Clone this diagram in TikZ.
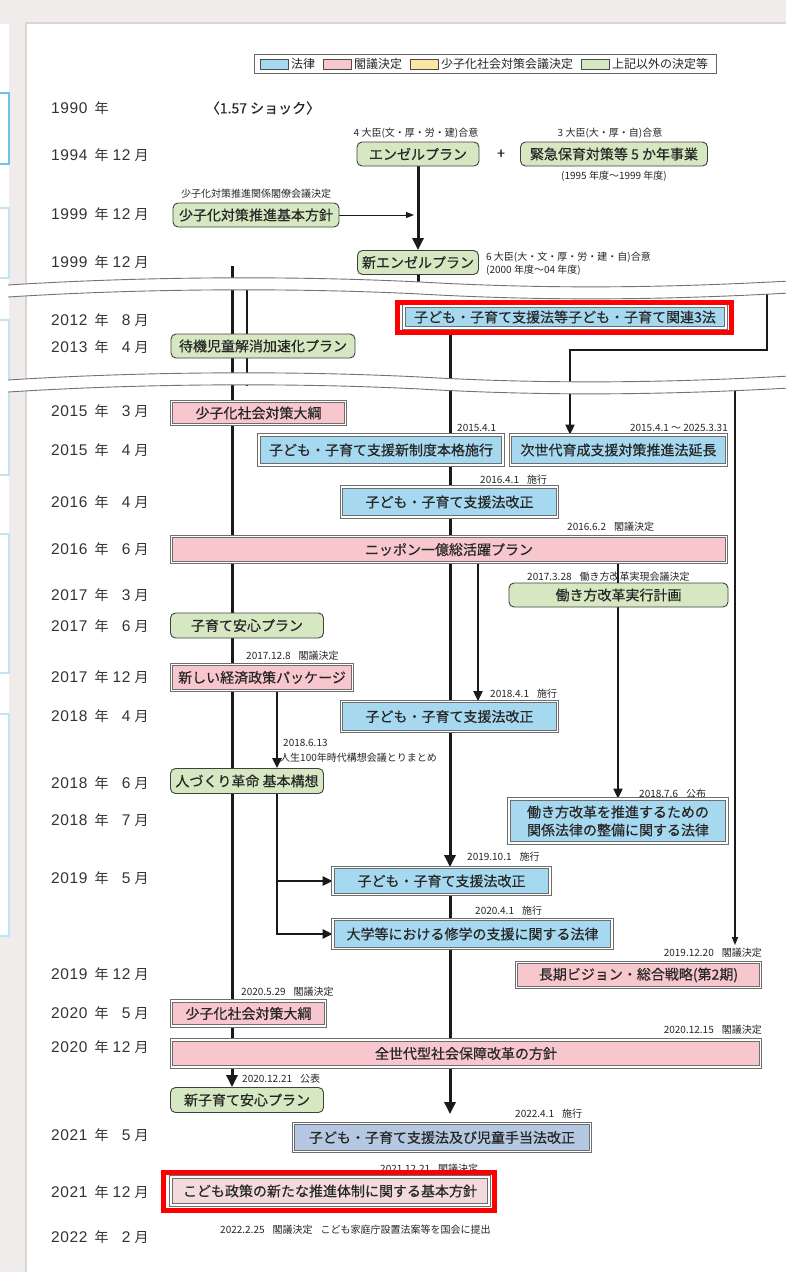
\documentclass[tikz,border=0pt]{standalone}
\usepackage{fontspec}
\setmainfont{Noto Sans CJK JP}
\newfontfamily\boxfont[FakeBold=0.4]{Noto Sans CJK JP}
\newfontfamily\yearfont[LetterSpace=4]{Liberation Sans}
\usetikzlibrary{arrows.meta}
\definecolor{bgc}{HTML}{F0ECEB}
\definecolor{shadowc}{HTML}{DCD5D4}
\definecolor{lawc}{HTML}{A6D8EF}
\definecolor{cabc}{HTML}{F8C6CD}
\definecolor{kaigic}{HTML}{FBE6A2}
\definecolor{otherc}{HTML}{D6E8C1}
\definecolor{law2c}{HTML}{B5C8E2}
\definecolor{cab2c}{HTML}{F3DADC}
\definecolor{txt}{HTML}{262626}
\definecolor{bord}{HTML}{6E6E6E}
\definecolor{linec}{HTML}{1A1A1A}
\definecolor{remA}{HTML}{6FC3E8}
\definecolor{remB}{HTML}{C2E3F2}
\pgfdeclarelayer{back}
\pgfdeclarelayer{lines}
\pgfsetlayers{back,lines,main}
\newcommand\yr[2]{{\yearfont\fontsize{15.5}{16}\selectfont #1}\hspace{7pt}年\hspace{3pt}\makebox[19pt][r]{\yearfont\fontsize{15.5}{16}\selectfont #2}\hspace{4pt}月}
\newcommand\wavebreak[1]{%
  \begin{scope}[shift={(0,#1)}]
    \fill[white] (8,0) .. controls (150,-9) and (300,-9) .. (420,-3) .. controls (560,5) and (680,2) .. (790,-4)
      -- (790,8) .. controls (680,14) and (560,17) .. (420,9) .. controls (300,3) and (150,3) .. (8,12) -- cycle;
    \draw[brkline] (8,0) .. controls (150,-9) and (300,-9) .. (420,-3) .. controls (560,5) and (680,2) .. (790,-4);
    \draw[brkline] (8,12) .. controls (150,3) and (300,3) .. (420,9) .. controls (560,17) and (680,14) .. (790,8);
  \end{scope}}
\begin{document}
\begin{tikzpicture}[x=1pt,y=-1pt,
  base/.style={inner sep=0pt, text=txt, font=\boxfont\fontsize{14}{18}\selectfont, align=center},
  gbox/.style={base, draw=black!75, line width=0.9pt, fill=otherc, rounded corners=5pt},
  lbox/.style={base, draw=bord, fill=lawc, double=white, double distance=1.6pt, line width=0.85pt},
  pbox/.style={base, draw=bord, fill=cabc, double=white, double distance=1.6pt, line width=0.85pt},
  redframe/.style={draw=red, line width=5pt, inner sep=0pt},
  year/.style={anchor=west, inner sep=0pt, text=black!80, font=\fontsize{14}{16}\selectfont},
  note/.style={inner sep=0pt, text=txt, font=\fontsize{10}{12}\selectfont},
  lg/.style={anchor=west, inner sep=0pt, text=txt, font=\fontsize{12}{14}\selectfont},
  sw/.style={draw=black!70, line width=0.6pt, minimum width=28pt, minimum height=10pt, inner sep=0pt},
  l3/.style={draw=linec, line width=3pt},
  l25/.style={draw=linec, line width=2.4pt},
  l2/.style={draw=linec, line width=2pt},
  l15/.style={draw=linec, line width=1.4pt},
  l1/.style={draw=linec, line width=1pt},
  tipB/.style={-{Triangle[width=11pt,length=12pt]}},
  tipM/.style={-{Triangle[width=9pt,length=10pt]}},
  tipS/.style={-{Triangle[width=6pt,length=8pt]}},
  brkline/.style={draw=black!55, line width=0.9pt}
]
\useasboundingbox (0,0) rectangle (786,1272);
\begin{pgfonlayer}{back}
  \fill[bgc] (0,0) rectangle (786,1272);
  \fill[white] (0,24) rectangle (9,936);
  \fill[white] (27,24) rectangle (790,1276);
  \draw[shadowc, line width=2pt] (26,1276) -- (26,23) -- (790,23);
  \draw[remA, line width=1.5pt] (-5,93) -- (9,93) -- (9,164) -- (-5,164);
  \draw[remB, line width=1.5pt] (-5,208) -- (9,208) -- (9,278) -- (-5,278);
  \draw[remB, line width=1.5pt] (-5,320) -- (9,320) -- (9,475) -- (-5,475);
  \draw[remB, line width=1.5pt] (-5,534) -- (9,534) -- (9,673) -- (-5,673);
  \draw[remB, line width=1.5pt] (-5,714) -- (9,714) -- (9,936) -- (-5,936);
\end{pgfonlayer}

% legend
\node[draw=black!60, line width=0.6pt, minimum width=462pt, minimum height=19pt, inner sep=0pt] (legend) at (485,64) {};
\node[sw, fill=lawc] (sw1) at (274,64) {};
\node[lg] (lg1) at (291,64) {法律};
\node[sw, fill=cabc] (sw2) at (337,64) {};
\node[lg] (lg2) at (354,64) {閣議決定};
\node[sw, fill=kaigic] (sw3) at (424,64) {};
\node[lg] (lg3) at (441,64) {少子化社会対策会議決定};
\node[sw, fill=otherc] (sw4) at (595,64) {};
\node[lg] (lg4) at (612,64) {上記以外の決定等};

% years
\node[year] (y1990) at (51,108) {{\yearfont\fontsize{15.5}{16}\selectfont 1990}\hspace{7pt}年};
\node[year] (y1994) at (51,155) {\yr{1994}{12}};
\node[year] (y1999a) at (51,214) {\yr{1999}{12}};
\node[year] (y1999b) at (51,262) {\yr{1999}{12}};
\node[year] (y2012) at (51,320) {\yr{2012}{8}};
\node[year] (y2013) at (51,347) {\yr{2013}{4}};
\node[year] (y2015a) at (51,411) {\yr{2015}{3}};
\node[year] (y2015b) at (51,450) {\yr{2015}{4}};
\node[year] (y2016a) at (51,502) {\yr{2016}{4}};
\node[year] (y2016b) at (51,549) {\yr{2016}{6}};
\node[year] (y2017a) at (51,595) {\yr{2017}{3}};
\node[year] (y2017b) at (51,626) {\yr{2017}{6}};
\node[year] (y2017c) at (51,677) {\yr{2017}{12}};
\node[year] (y2018a) at (51,716) {\yr{2018}{4}};
\node[year] (y2018b) at (51,783) {\yr{2018}{6}};
\node[year] (y2018c) at (51,820) {\yr{2018}{7}};
\node[year] (y2019a) at (51,878) {\yr{2019}{5}};
\node[year] (y2019b) at (51,974) {\yr{2019}{12}};
\node[year] (y2020a) at (51,1013) {\yr{2020}{5}};
\node[year] (y2020b) at (51,1047) {\yr{2020}{12}};
\node[year] (y2021a) at (51,1135) {\yr{2021}{5}};
\node[year] (y2021b) at (51,1192) {\yr{2021}{12}};
\node[year] (y2022) at (51,1237) {\yr{2022}{2}};

% 1990s
\node[base] (shock) at (263,108) {〈1.57 ショック〉};
\node[note] (a4) at (416,133) {4 大臣(文・厚・労・建)合意};
\node[gbox, minimum width=122pt, minimum height=24pt] (angel) at (418,154) {エンゼルプラン};
\node[base] (plus) at (501,154) {+};
\node[note] (a3) at (610,133) {3 大臣(大・厚・自)合意};
\node[gbox, minimum width=187pt, minimum height=24pt] (kinkyu) at (614,154) {緊急保育対策等 5 か年事業};
\node[note] (k95) at (614,176) {(1995 年度～1999 年度)};
\node[note] (kakuryo) at (256,194) {少子化対策推進関係閣僚会議決定};
\node[gbox, minimum width=166pt, minimum height=24pt] (kihon) at (256,215) {少子化対策推進基本方針};
\node[gbox, minimum width=121pt, minimum height=24pt] (shinangel) at (418,262.5) {新エンゼルプラン};
\node[note, anchor=west] (a6) at (486,257) {6 大臣(大・文・厚・労・建・自)合意};
\node[note, anchor=west] (a6b) at (486,270) {(2000 年度～04 年度)};

% 2012-2013
\node[lbox, minimum width=322pt, minimum height=22pt] (kanren3) at (565,317) {子ども・子育て支援法等子ども・子育て関連3法};
\node[gbox, minimum width=184pt, minimum height=24pt] (taiki) at (263,346) {待機児童解消加速化プラン};

% 2015-
\node[pbox, minimum width=174pt, minimum height=23pt] (taiko1) at (258.5,413) {少子化社会対策大綱};
\node[note, anchor=west] (d1) at (457,428) {2015.4.1};
\node[note, anchor=east] (d2) at (728,428) {2015.4.1 ～ 2025.3.31};
\node[lbox, minimum width=244pt, minimum height=30pt] (shinseido) at (381,450) {子ども・子育て支援新制度本格施行};
\node[lbox, minimum width=216pt, minimum height=30pt] (jisedai) at (618.5,450) {次世代育成支援対策推進法延長};
\node[note, anchor=west] (d3) at (480,480) {2016.4.1\hspace{8pt}施行};
\node[lbox, minimum width=216pt, minimum height=30pt] (kaisei1) at (449.5,502) {子ども・子育て支援法改正};
\node[note, anchor=west] (d4) at (567,527) {2016.6.2\hspace{8pt}閣議決定};
\node[pbox, minimum width=555pt, minimum height=26pt] (nippon) at (449,549.5) {ニッポン一億総活躍プラン};
\node[note, anchor=west] (d5) at (527,577) {2017.3.28\hspace{8pt}働き方改革実現会議決定};
\node[gbox, minimum width=219pt, minimum height=24pt] (keikaku) at (618.5,595) {働き方改革実行計画};
\node[gbox, minimum width=153pt, minimum height=25pt] (anshin) at (247,625.5) {子育て安心プラン};
\node[note, anchor=west] (d6) at (246,656) {2017.12.8\hspace{8pt}閣議決定};
\node[pbox, minimum width=181pt, minimum height=26pt] (keizai) at (262,677.5) {新しい経済政策パッケージ};
\node[note, anchor=west] (d7) at (490,694) {2018.4.1\hspace{8pt}施行};
\node[lbox, minimum width=216pt, minimum height=30pt] (kaisei2) at (449.5,716.5) {子ども・子育て支援法改正};
\node[note, anchor=west] (d8) at (283,743) {2018.6.13};
\node[note, anchor=west] (d8b) at (280,758) {人生100年時代構想会議とりまとめ};
\node[gbox, minimum width=153pt, minimum height=25pt] (hito) at (247,781) {人づくり革命 基本構想};
\node[note, anchor=west] (d9) at (639,794) {2018.7.6\hspace{8pt}公布};
\node[lbox, minimum width=218pt, minimum height=44pt] (hatarakihou) at (618,821) {働き方改革を推進するための\\関係法律の整備に関する法律};
\node[note, anchor=west] (d10) at (467,857) {2019.10.1\hspace{8pt}施行};
\node[lbox, minimum width=217pt, minimum height=27pt] (kaisei3) at (441.5,881) {子ども・子育て支援法改正};
\node[note, anchor=west] (d11) at (475,911) {2020.4.1\hspace{8pt}施行};
\node[lbox, minimum width=279pt, minimum height=29pt] (daigaku) at (472.5,934) {大学等における修学の支援に関する法律};
\node[note, anchor=east] (d12) at (762,953) {2019.12.20\hspace{8pt}閣議決定};
\node[pbox, minimum width=244pt, minimum height=25pt] (choki) at (638.5,975) {長期ビジョン・総合戦略(第2期)};
\node[note, anchor=west] (d13) at (241,992) {2020.5.29\hspace{8pt}閣議決定};
\node[pbox, minimum width=154pt, minimum height=25pt] (taiko2) at (248.5,1013.5) {少子化社会対策大綱};
\node[note, anchor=east] (d14) at (762,1030) {2020.12.15\hspace{8pt}閣議決定};
\node[pbox, minimum width=589pt, minimum height=27pt] (zensedai) at (466,1053.5) {全世代型社会保障改革の方針};
\node[note, anchor=west] (d15) at (242,1079) {2020.12.21\hspace{8pt}公表};
\node[gbox, minimum width=153pt, minimum height=25pt] (shinanshin) at (247,1100) {新子育て安心プラン};
\node[note, anchor=west] (d16) at (515,1114) {2022.4.1\hspace{8pt}施行};
\node[lbox, fill=law2c, minimum width=297pt, minimum height=28pt] (kaisei4) at (442,1137.5) {子ども・子育て支援法及び児童手当法改正};
\node[note, anchor=west] (d17) at (380,1169) {2021.12.21\hspace{8pt}閣議決定};
\node[pbox, fill=cab2c, minimum width=318pt, minimum height=28pt] (kodomo) at (330,1191) {こども政策の新たな推進体制に関する基本方針};
\node[note, anchor=west] (d18) at (220,1230) {2022.2.25\hspace{8pt}閣議決定\hspace{8pt}こども家庭庁設置法案等を国会に提出};

% red frames
\node[redframe, minimum width=334pt, minimum height=30pt] (rf1) at (564.5,317) {};
\node[redframe, minimum width=331pt, minimum height=38pt] (rf2) at (329,1191.5) {};

% connectors
\begin{pgfonlayer}{lines}
  \coordinate (a0) at (232,266);
  \draw[l3] (a0) -- (a0 |- zensedai.center);
  \draw[l3, tipB] (a0 |- zensedai.south) -- (a0 |- shinanshin.north);
  \coordinate (a2) at (247,280);
  \coordinate (a3) at (247,386);
  \draw[l15] (a2) -- (a3);
  \draw[l3, tipB] (angel.south) -- (angel.south |- shinangel.north);
  \draw[l3] (shinangel.south) -- ++(0,12);
  \coordinate (k1) at (414,215);
  \draw[l1, tipS] (kihon.east) -- (k1);
  \coordinate (c0) at (450,0);
  \draw[l3, tipB] (kanren3.south -| c0) -- (c0 |- kaisei3.north);
  \draw[l3] (c0 |- kaisei3.south) -- (c0 |- zensedai.center);
  \draw[l3, tipB, shorten >=9pt] (c0 |- zensedai.south) -- (c0 |- kaisei4.north);
  \coordinate (d0) at (478,0);
  \draw[l2, tipM] (nippon.south -| d0) -- (d0 |- kaisei2.north);
  \coordinate (g0) at (618,0);
  \draw[l2] (nippon.south -| g0) -- (g0 |- keikaku.north);
  \draw[l2, tipM] (g0 |- keikaku.south) -- (g0 |- hatarakihou.north);
  \coordinate (e0) at (767,283);
  \coordinate (e1) at (570,350);
  \draw[l2, tipM] (e0) |- (e1) -- (e1 |- jisedai.north);
  \coordinate (f0) at (735,380);
  \draw[l15, tipS, shorten >=17pt] (f0) -- (f0 |- choki.north);
  \coordinate (h0) at (277,0);
  \draw[l25, tipM] (keizai.south -| h0) -- (h0 |- hito.north);
  \draw[l25, tipM] (hito.south -| h0) |- (daigaku.west);
  \draw[l25, tipM] (h0 |- kaisei3.west) -- (kaisei3.west);
\end{pgfonlayer}

% breaks
\wavebreak{285}
\wavebreak{380}
\end{tikzpicture}
\end{document}
